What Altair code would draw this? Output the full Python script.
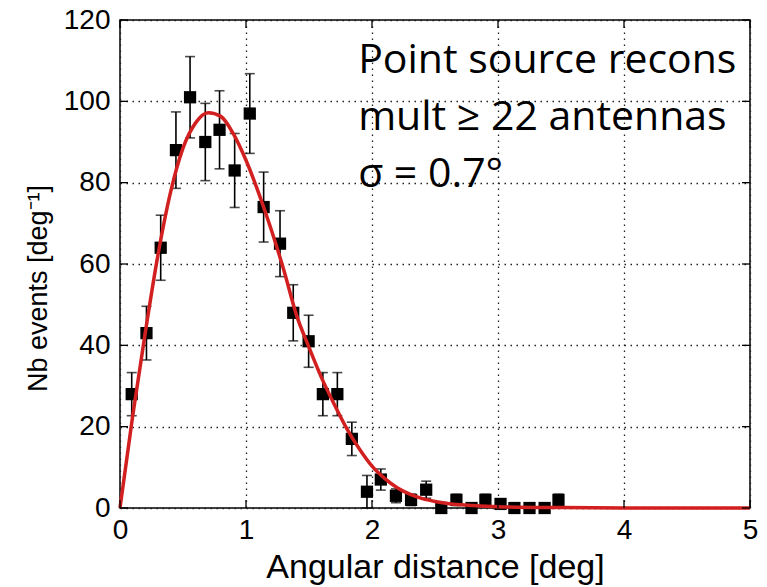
import altair as alt
import pandas as pd

# Measured histogram points (angular distance in deg, events per deg)
pts_x = [0.093, 0.21, 0.323, 0.444, 0.556, 0.677, 0.79, 0.91, 1.03, 1.14,
         1.27, 1.375, 1.497, 1.61, 1.725, 1.84, 1.96, 2.07, 2.19, 2.31,
         2.43, 2.55, 2.67, 2.79, 2.90, 3.02, 3.13, 3.25, 3.37, 3.48]
pts_y = [28, 43, 64, 88, 101, 90, 93, 83, 97, 74,
         65, 48, 41, 28, 28, 17, 4, 7, 3, 2,
         4.5, 0, 2, 0, 2, 1, 0, 0, 0, 2]
pts_err = [5.3, 6.6, 8.0, 9.4, 10.0, 9.5, 9.6, 9.1, 9.8, 8.6,
           8.1, 6.9, 6.4, 5.3, 5.3, 4.1, 4.0, 2.6, 1.7, 1.4,
           2.1, 0, 1.4, 0, 1.4, 1.0, 0, 0, 0, 1.4]

# Fitted curve
curve_x = [0, 0.1, 0.2, 0.3, 0.4, 0.5, 0.6, 0.7, 0.8, 0.9, 1.0, 1.1, 1.2,
           1.3, 1.4, 1.5, 1.6, 1.7, 1.8, 1.9, 2.0, 2.1, 2.2, 2.3, 2.4, 2.5,
           2.6, 2.8, 3.0, 3.5, 4.0, 5.0]
curve_y = [0, 22.5, 43, 62, 77.5, 88.5, 94.7, 97.2, 96.3, 92, 85.5, 77.5, 68.5,
           58.5, 47.5, 39.5, 32, 25.5, 19.5, 14.5, 10.3, 7.3, 5.0, 3.4, 2.3, 1.6,
           1.1, 0.6, 0.3, 0.1, 0.02, 0.0]

x_ticks = [0, 1, 2, 3, 4, 5]
y_ticks = [0, 20, 40, 60, 80, 100, 120]
annotation = ["Point source recons\nmult \u2265 22 antennas\n\u03c3 = 0.7\u00b0"]
annotation_anchor = {"x": [1.89], "y": [106.9]}

W, H = 630, 488
TICK = 8

pts = pd.DataFrame({"x": pts_x, "y": pts_y, "err": pts_err})
pts["lo"] = pts["y"] - pts["err"]
pts["hi"] = pts["y"] + pts["err"]
curve = pd.DataFrame({"x": curve_x, "y": curve_y})
xt = pd.DataFrame({"v": x_ticks})
yt = pd.DataFrame({"v": y_ticks})
ann = pd.DataFrame({"t": annotation, **annotation_anchor})

FONT = "Liberation Sans"
xscale = alt.Scale(domain=[0, 5], nice=False, zero=False)
yscale = alt.Scale(domain=[0, 120], nice=False)

xaxis = alt.Axis(values=x_ticks, format="d", labelFontSize=28, labelFont=FONT, labelColor="black",
                 labelPadding=8, labelFlush=False, labelOverlap=False,
                 ticks=False, domain=False, grid=True, gridDash=[1.5, 4.5],
                 gridColor="#222222", gridWidth=1.3,
                 title="Angular distance [deg]", titleFont=FONT, titleFontSize=34,
                 titleFontWeight="normal", titleColor="black",
                 titleX=W / 2, titleY=69, titleBaseline="alphabetic", titleAlign="center")
yaxis = alt.Axis(values=y_ticks, format="d", labelFontSize=28, labelFont=FONT, labelColor="black",
                 labelPadding=10, labelFlush=False, labelOverlap=False,
                 ticks=False, domain=False, grid=True, gridDash=[1.5, 4.5],
                 gridColor="#222222", gridWidth=1.3,
                 title="Nb events [deg\u207b\u00b9]", titleFont=FONT, titleFontSize=27,
                 titleFontWeight="normal", titleColor="black",
                 titleAngle=270, titleX=-74, titleY=268, titleAlign="center",
                 titleBaseline="alphabetic")

base = alt.Chart(pts)

errbars = base.mark_rule(color="black", strokeWidth=1.6).encode(
    x=alt.X("x:Q", scale=xscale, axis=xaxis),
    y=alt.Y("lo:Q", scale=yscale, axis=yaxis),
    y2="hi:Q",
)
caps_hi = base.mark_tick(color="black", orient="horizontal", size=10, thickness=1.6).encode(
    x=alt.X("x:Q", scale=xscale), y=alt.Y("hi:Q", scale=yscale)
)
caps_lo = base.mark_tick(color="black", orient="horizontal", size=10, thickness=1.6).encode(
    x=alt.X("x:Q", scale=xscale), y=alt.Y("lo:Q", scale=yscale)
)
squares = base.mark_point(shape="square", filled=True, color="black", size=150, opacity=1).encode(
    x=alt.X("x:Q", scale=xscale), y=alt.Y("y:Q", scale=yscale)
)
line = alt.Chart(curve).mark_line(color="#d21f1f", strokeWidth=3.5, interpolate="monotone").encode(
    x=alt.X("x:Q", scale=xscale), y=alt.Y("y:Q", scale=yscale)
)

tick_style = dict(color="black", strokeWidth=1.3)
lt = alt.Chart(yt).mark_rule(**tick_style).encode(
    y=alt.Y("v:Q", scale=yscale), x=alt.value(0), x2=alt.value(TICK))
rt = alt.Chart(yt).mark_rule(**tick_style).encode(
    y=alt.Y("v:Q", scale=yscale), x=alt.value(W - TICK), x2=alt.value(W))
bt = alt.Chart(xt).mark_rule(**tick_style).encode(
    x=alt.X("v:Q", scale=xscale), y=alt.value(H - TICK), y2=alt.value(H))
tt = alt.Chart(xt).mark_rule(**tick_style).encode(
    x=alt.X("v:Q", scale=xscale), y=alt.value(0), y2=alt.value(TICK))

text = alt.Chart(ann).mark_text(
    align="left", baseline="alphabetic", font="Open Sans", fontSize=41,
    lineBreak="\n", lineHeight=57, color="black"
).encode(
    x=alt.X("x:Q", scale=xscale),
    y=alt.Y("y:Q", scale=yscale),
    text="t:N",
)

chart = alt.layer(errbars, caps_hi, caps_lo, squares, line, lt, rt, bt, tt, text).properties(
    width=W, height=H,
    autosize=alt.AutoSizeParams(type="none"),
    padding={"left": 120, "top": 20, "right": 17, "bottom": 79},
    background="white",
).configure_view(stroke="black", strokeWidth=1.5)

chart.save("out.html", embed_options={"renderer": "svg", "actions": False})
